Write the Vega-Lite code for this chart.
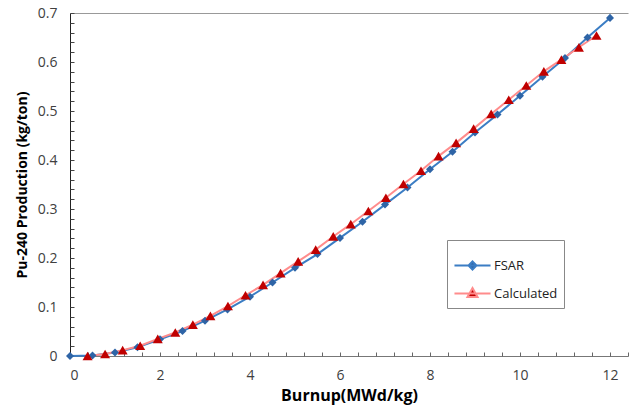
{
  "$schema": "https://vega.github.io/schema/vega-lite/v6.json",
  "autosize": {"type": "none"},
  "padding": {"left": 70, "top": 13, "right": 2, "bottom": 54},
  "width": 558,
  "height": 343,
  "background": "white",
  "config": {"view": {"stroke": null}, "font": "Open Sans"},
  "data": {"values": [
    {"series": "FSAR", "burnup": 0, "pu": 0},
    {"series": "FSAR", "burnup": 0.5, "pu": 0.001},
    {"series": "FSAR", "burnup": 1.0, "pu": 0.007},
    {"series": "FSAR", "burnup": 1.5, "pu": 0.018},
    {"series": "FSAR", "burnup": 2.0, "pu": 0.034},
    {"series": "FSAR", "burnup": 2.5, "pu": 0.051},
    {"series": "FSAR", "burnup": 3.0, "pu": 0.072},
    {"series": "FSAR", "burnup": 3.5, "pu": 0.095},
    {"series": "FSAR", "burnup": 4.0, "pu": 0.121},
    {"series": "FSAR", "burnup": 4.5, "pu": 0.150},
    {"series": "FSAR", "burnup": 5.0, "pu": 0.180},
    {"series": "FSAR", "burnup": 5.5, "pu": 0.208},
    {"series": "FSAR", "burnup": 6.0, "pu": 0.241},
    {"series": "FSAR", "burnup": 6.5, "pu": 0.274},
    {"series": "FSAR", "burnup": 7.0, "pu": 0.309},
    {"series": "FSAR", "burnup": 7.5, "pu": 0.344},
    {"series": "FSAR", "burnup": 8.0, "pu": 0.381},
    {"series": "FSAR", "burnup": 8.5, "pu": 0.417},
    {"series": "FSAR", "burnup": 9.0, "pu": 0.456},
    {"series": "FSAR", "burnup": 9.5, "pu": 0.493},
    {"series": "FSAR", "burnup": 10.0, "pu": 0.531},
    {"series": "FSAR", "burnup": 10.5, "pu": 0.570},
    {"series": "FSAR", "burnup": 11.0, "pu": 0.608},
    {"series": "FSAR", "burnup": 11.5, "pu": 0.650},
    {"series": "FSAR", "burnup": 12.0, "pu": 0.690},
    {"series": "Calculated", "burnup": 0.39, "pu": 0.0},
    {"series": "Calculated", "burnup": 0.78, "pu": 0.004},
    {"series": "Calculated", "burnup": 1.17, "pu": 0.012},
    {"series": "Calculated", "burnup": 1.56, "pu": 0.021},
    {"series": "Calculated", "burnup": 1.95, "pu": 0.035},
    {"series": "Calculated", "burnup": 2.34, "pu": 0.048},
    {"series": "Calculated", "burnup": 2.73, "pu": 0.064},
    {"series": "Calculated", "burnup": 3.12, "pu": 0.082},
    {"series": "Calculated", "burnup": 3.51, "pu": 0.102},
    {"series": "Calculated", "burnup": 3.9, "pu": 0.124},
    {"series": "Calculated", "burnup": 4.29, "pu": 0.145},
    {"series": "Calculated", "burnup": 4.68, "pu": 0.169},
    {"series": "Calculated", "burnup": 5.07, "pu": 0.193},
    {"series": "Calculated", "burnup": 5.46, "pu": 0.217},
    {"series": "Calculated", "burnup": 5.85, "pu": 0.244},
    {"series": "Calculated", "burnup": 6.24, "pu": 0.269},
    {"series": "Calculated", "burnup": 6.63, "pu": 0.296},
    {"series": "Calculated", "burnup": 7.02, "pu": 0.323},
    {"series": "Calculated", "burnup": 7.41, "pu": 0.351},
    {"series": "Calculated", "burnup": 7.8, "pu": 0.378},
    {"series": "Calculated", "burnup": 8.19, "pu": 0.408},
    {"series": "Calculated", "burnup": 8.58, "pu": 0.435},
    {"series": "Calculated", "burnup": 8.97, "pu": 0.464},
    {"series": "Calculated", "burnup": 9.36, "pu": 0.494},
    {"series": "Calculated", "burnup": 9.75, "pu": 0.523},
    {"series": "Calculated", "burnup": 10.14, "pu": 0.552},
    {"series": "Calculated", "burnup": 10.53, "pu": 0.581},
    {"series": "Calculated", "burnup": 10.92, "pu": 0.605},
    {"series": "Calculated", "burnup": 11.31, "pu": 0.630},
    {"series": "Calculated", "burnup": 11.7, "pu": 0.654}
  ]},
  "resolve": {"axis": {"x": "independent", "y": "independent"}},
  "layer": [
    {
      "mark": {"type": "line", "strokeWidth": 2},
      "encoding": {
        "x": {"field": "burnup", "type": "quantitative",
          "scale": {"domain": [0, 12.4], "nice": false, "zero": false},
          "axis": {"orient": "bottom", "values": [0, 2, 4, 6, 8, 10, 12], "ticks": false, "grid": false,
            "domainColor": "#777", "domainWidth": 1,
            "labelFont": "Open Sans", "labelFontSize": 14, "labelColor": "#404040", "labelPadding": 12,
            "title": "Burnup(MWd/kg)", "titleFont": "Open Sans", "titleFontSize": 16, "titleFontWeight": "bold",
            "titleColor": "#000", "titlePadding": 5}},
        "y": {"field": "pu", "type": "quantitative",
          "scale": {"domain": [0, 0.7], "nice": false},
          "axis": {"orient": "left", "values": [0, 0.1, 0.2, 0.3, 0.4, 0.5, 0.6, 0.7], "format": ".1~f",
            "ticks": false, "grid": false, "domainColor": "#222", "domainWidth": 1,
            "labelFont": "Open Sans", "labelFontSize": 14, "labelColor": "#404040", "labelPadding": 13,
            "title": "Pu-240 Production (kg/ton)", "titleFont": "Open Sans", "titleFontSize": 14,
            "titleFontWeight": "bold", "titleColor": "#000", "titlePadding": 8}},
        "color": {"field": "series", "type": "nominal",
          "scale": {"domain": ["FSAR", "Calculated"], "range": ["#3B7DC4", "#FF8C8C"]},
          "legend": {"orient": "none", "legendX": 377, "legendY": 227, "title": null,
            "strokeColor": "#888", "fillColor": "white", "padding": 6,
            "symbolSize": 1300, "symbolStrokeWidth": 2,
            "labelFont": "Open Sans", "labelFontSize": 13, "labelColor": "#222", "labelOffset": 2,
            "rowPadding": -9,
            "encode": {"symbols": {"update": {
              "shape": {"signal": "datum.value === 'FSAR' ? 'M-1,0H1M0,-0.22L0.22,0L0,0.22L-0.22,0Z' : 'M-1,0H1M0,-0.3L0.28,0.2L-0.28,0.2Z'"},
              "fill": {"signal": "datum.value === 'FSAR' ? '#2E64A6' : '#C00000'"}
            }}}}}
      }
    },
    {
      "transform": [{"filter": "datum.series === 'FSAR'"}],
      "mark": {"type": "point", "shape": "diamond", "filled": true, "size": 65, "color": "#2E64A6", "opacity": 1},
      "encoding": {
        "x": {"field": "burnup", "type": "quantitative",
          "axis": {"orient": "bottom", "values": [0,0.4,0.8,1.2,1.6,2,2.4,2.8,3.2,3.6,4,4.4,4.8,5.2,5.6,6,6.4,6.8,7.2,7.6,8,8.4,8.8,9.2,9.6,10,10.4,10.8,11.2,11.6,12,12.4],
            "labels": false, "domain": false, "grid": false, "ticks": true, "tickSize": -4, "tickColor": "#666", "title": null}},
        "y": {"field": "pu", "type": "quantitative",
          "axis": {"orient": "left", "values": [0,0.02,0.04,0.06,0.08,0.1,0.12,0.14,0.16,0.18,0.2,0.22,0.24,0.26,0.28,0.3,0.32,0.34,0.36,0.38,0.4,0.42,0.44,0.46,0.48,0.5,0.52,0.54,0.56,0.58,0.6,0.62,0.64,0.66,0.68,0.7],
            "labels": false, "domain": false, "grid": false, "ticks": true, "tickSize": -4, "tickColor": "#444", "title": null}}
      }
    },
    {
      "transform": [{"filter": "datum.series === 'Calculated'"}],
      "mark": {"type": "point", "shape": "triangle-up", "filled": true, "size": 100, "color": "#C00000", "opacity": 1},
      "encoding": {
        "x": {"field": "burnup", "type": "quantitative",
          "axis": {"orient": "top", "labels": false, "ticks": false, "grid": false, "domain": true, "domainColor": "#999", "title": null}},
        "y": {"field": "pu", "type": "quantitative", "axis": null}
      }
    }
  ]
}
